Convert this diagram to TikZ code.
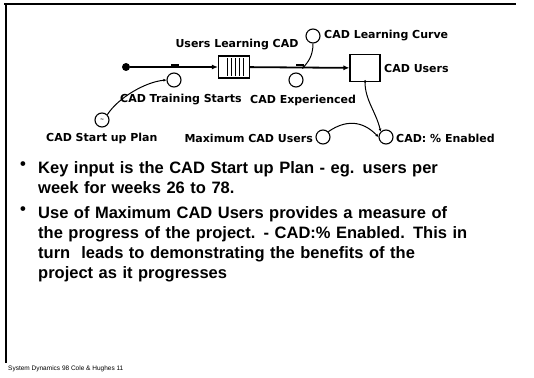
\documentclass[tikz,border=0pt]{standalone}
\usepackage{fontspec}
\setmainfont{Liberation Sans}
\newfontfamily\lblfont{DejaVu Sans}
\usetikzlibrary{arrows.meta}

\tikzset{
  aux/.style={circle,draw,line width=1.1pt,minimum size=14pt,inner sep=0pt},
  lbl/.style={font=\lblfont\fontsize{11}{12}\selectfont\bfseries,inner sep=0pt,anchor=west},
  flow/.style={line width=1.8pt,-{Latex[length=6pt,width=5pt]}},
  link/.style={line width=1pt,-{Latex[length=3pt,width=3pt]}},
  bullet/.style={font=\fontsize{16.5}{20}\selectfont\bfseries,inner sep=0pt,anchor=north west,align=left},
}

\begin{document}
\begin{tikzpicture}[x=1pt,y=-1pt]
\useasboundingbox (0,0) rectangle (534,377);
%\draw[step=10,gray,very thin] (0,0) grid (534,377); %background grid
\draw[line width=2pt] (4,4) -- (516,4); %top
\draw[line width=1.5pt] (6,4) -- (6,363); %left

% stock and flows
\node[circle,fill,inner sep=0pt,minimum size=8pt] (src) at (126,67) {};
\node[draw,line width=1.1pt,minimum width=31pt,minimum height=22pt,inner sep=0pt] (conv) at (234,67) {};
\foreach \i in {227,231,...,243} \draw[line width=0.9pt] (\i,58) -- (\i,76);
\node[draw,line width=1.1pt,minimum width=30pt,minimum height=27pt,inner sep=0pt] (users) at (365,68) {};
\draw[flow] (src) -- (conv);
\draw[flow] (conv) -- (users);
\fill (171,64) rectangle (179,66.5); %valves
\fill (296,64) rectangle (304,66.5);

% converters
\node[aux] (starts) at (174,80) {};
\node[aux] (exper) at (296,80) {};
\node[aux] (curve) at (313,36) {};
\node[aux] (plan) at (102,120) {\fontsize{6}{6}\selectfont\bfseries\char`\~};
\node[aux] (maxu) at (323,137) {};
\node[aux] (pct) at (386,137) {};

% labels
\node[lbl,anchor=center] (lconv) at (237,45) {Users Learning CAD};
\node[lbl] (lcurve) at (324,36) {CAD Learning Curve};
\node[lbl] (lusers) at (384,68) {CAD Users};
\node[lbl] (lstarts) at (120,100) {CAD Training Starts};
\node[lbl] (lexper) at (250,100) {CAD Experienced};
\node[lbl] (lplan) at (46,138) {CAD Start up Plan};
\node[lbl,anchor=east] (lmaxu) at (313,138) {Maximum CAD Users};
\node[lbl] (lpct) at (396,138) {CAD: \% Enabled};

% links
\draw[link] (curve.south) .. controls (313,56) and (308,62) .. (302,69);
\draw[link] (plan.north east) .. controls (118,98) and (145,82) .. (starts.west);
\fill (365,81.5) circle (1.5pt);
\draw[link] (users.south) .. controls (365,100) and (376,112) .. (pct.north west);
\draw[link] (maxu.north east) .. controls (345,120) and (362,120) .. (pct.west);

% text
\node[bullet] (b1) at (20,161) {\textbullet};
\node[bullet,text width=480pt] (t1) at (38,161) {Key input is the CAD Start up Plan - eg. users per\\week for weeks 26 to 78.};
\node[bullet] (b2) at (20,206) {\textbullet};
\node[bullet,text width=480pt] (t2) at (38,206) {Use of Maximum CAD Users provides a measure of\\the progress of the project. - CAD:\% Enabled. This in\\turn\ \ leads to demonstrating the benefits of the\\project as it progresses};
\node[font=\fontsize{6.5}{7}\selectfont,inner sep=0pt,anchor=west] (foot) at (8,369) {System Dynamics 98 Cole \& Hughes 11};
\end{tikzpicture}
\end{document}
